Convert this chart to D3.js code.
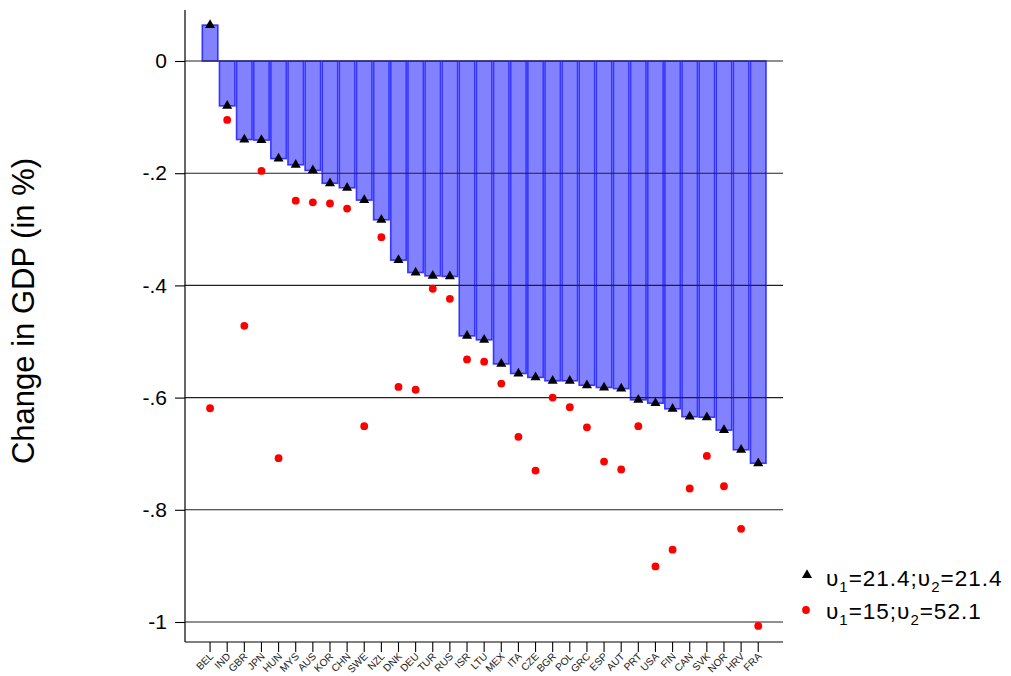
<!DOCTYPE html>
<html><head><meta charset="utf-8">
<script src="https://cdnjs.cloudflare.com/ajax/libs/d3/7.8.5/d3.min.js"></script>
<style>body{margin:0;background:#fff}svg{display:block;font-family:"Liberation Sans",Arial,Helvetica,sans-serif}</style>
</head><body><svg id="c" width="1011" height="676"></svg>
<script>
const countries = ["BEL","IND","GBR","JPN","HUN","MYS","AUS","KOR","CHN","SWE","NZL","DNK","DEU","TUR","RUS","ISR","LTU","MEX","ITA","CZE","BGR","POL","GRC","ESP","AUT","PRT","USA","FIN","CAN","SVK","NOR","HRV","FRA"];
const seriesA = [0.064,-0.080,-0.140,-0.141,-0.174,-0.185,-0.195,-0.218,-0.226,-0.248,-0.283,-0.355,-0.377,-0.383,-0.384,-0.490,-0.497,-0.540,-0.557,-0.564,-0.570,-0.570,-0.578,-0.582,-0.584,-0.604,-0.610,-0.620,-0.634,-0.635,-0.658,-0.693,-0.717];
const seriesB = [-0.619,-0.105,-0.472,-0.196,-0.708,-0.249,-0.252,-0.254,-0.263,-0.651,-0.314,-0.581,-0.586,-0.406,-0.424,-0.532,-0.536,-0.575,-0.670,-0.730,-0.600,-0.617,-0.653,-0.714,-0.728,-0.651,-0.901,-0.871,-0.762,-0.704,-0.758,-0.834,-1.007];
const yTicks = [0,-0.2,-0.4,-0.6,-0.8,-1];
const yTickLabels = ["0","-.2","-.4","-.6","-.8","-1"];
const yTitle = "Change in GDP (in %)";
const legendA = ["\u03C5","1","=21.4;","\u03C5","2","=21.4"];
const legendB = ["\u03C5","1","=15;","\u03C5","2","=52.1"];

const svg = d3.select("#c");
const axisX = 185, axisY = 642, gridRight = 783;
const x = d3.scaleBand().domain(countries).range([201.5, 766.8]).padding(0);
const y = d3.scaleLinear().domain([0,-1]).range([61,622]);

// bars
svg.append("g").selectAll("rect").data(countries).join("rect")
  .attr("x", d => x(d) + 0.8)
  .attr("width", x.bandwidth() - 1.6)
  .attr("y", (d,i) => Math.min(y(0), y(seriesA[i])))
  .attr("height", (d,i) => Math.abs(y(seriesA[i]) - y(0)))
  .attr("fill", "rgba(0,0,255,0.49)")
  .attr("stroke", "rgba(30,30,255,0.85)")
  .attr("stroke-width", 1.6);

// gridlines
svg.append("g").selectAll("line").data(yTicks).join("line")
  .attr("x1", axisX).attr("x2", gridRight)
  .attr("y1", d => y(d)).attr("y2", d => y(d))
  .attr("stroke", "#222").attr("stroke-width", 1.1);

// y axis
const yAxis = d3.axisLeft(y).tickValues(yTicks).tickFormat((d,i) => yTickLabels[i]).tickSize(10).tickPadding(8);
const gy = svg.append("g").attr("transform", `translate(${axisX},0)`).call(yAxis);
gy.select(".domain").remove();
gy.selectAll("text").attr("font-size", 21).attr("fill", "#000").attr("font-family", "Liberation Sans, Arial, sans-serif");
gy.selectAll("line").attr("stroke", "#000").attr("stroke-width", 1.1);
svg.append("line").attr("x1", axisX).attr("x2", axisX).attr("y1", 10).attr("y2", axisY).attr("stroke", "#000").attr("stroke-width", 1.2);

// x axis
const xAxis = d3.axisBottom(x).tickSize(10).tickPadding(4);
const gx = svg.append("g").attr("transform", `translate(0,${axisY})`).call(xAxis);
gx.select(".domain").remove();
gx.selectAll("line").attr("stroke", "#000").attr("stroke-width", 1.1);
gx.selectAll("text").attr("font-size", 10.2).attr("fill", "#222")
  .attr("text-anchor", "end").attr("dy", null).attr("y", 0)
  .attr("transform", "translate(4,15) rotate(-45)")
  .attr("font-family", "Liberation Sans, Arial, sans-serif");
svg.append("line").attr("x1", axisX).attr("x2", gridRight).attr("y1", axisY).attr("y2", axisY).attr("stroke", "#000").attr("stroke-width", 1.2);

// triangles
const tri = d3.symbol().type(d3.symbolTriangle).size(44);
svg.append("g").selectAll("path").data(countries).join("path")
  .attr("d", tri)
  .attr("transform", (d,i) => `translate(${x(d)+x.bandwidth()/2},${y(seriesA[i])})`)
  .attr("fill", "#000");

// circles
svg.append("g").selectAll("circle").data(countries).join("circle")
  .attr("cx", d => x(d)+x.bandwidth()/2)
  .attr("cy", (d,i) => y(seriesB[i]))
  .attr("r", 3.9).attr("fill", "#f00");

// y title
svg.append("text").attr("transform", "translate(34,311) rotate(-90)")
  .attr("text-anchor", "middle").attr("font-size", 31).attr("fill", "#000")
  .text(yTitle);

// legend
function legendText(parts, ty) {
  const t = svg.append("text").attr("x", 826).attr("y", ty).attr("font-size", 22.5)
    .attr("letter-spacing", 1).attr("fill", "#000");
  parts.forEach((p,i) => {
    const sub = (i === 1 || i === 4);
    const s = t.append("tspan").text(p);
    if (sub) s.attr("font-size", 15).attr("dy", 5.5);
    else if (i === 2 || i === 5) s.attr("dy", -5.5);
  });
}
svg.append("path").attr("d", tri).attr("transform", "translate(807,575)").attr("fill", "#000");
legendText(legendA, 586);
svg.append("circle").attr("cx", 806).attr("cy", 610).attr("r", 3.9).attr("fill", "#f00");
legendText(legendB, 619);
</script></body></html>
